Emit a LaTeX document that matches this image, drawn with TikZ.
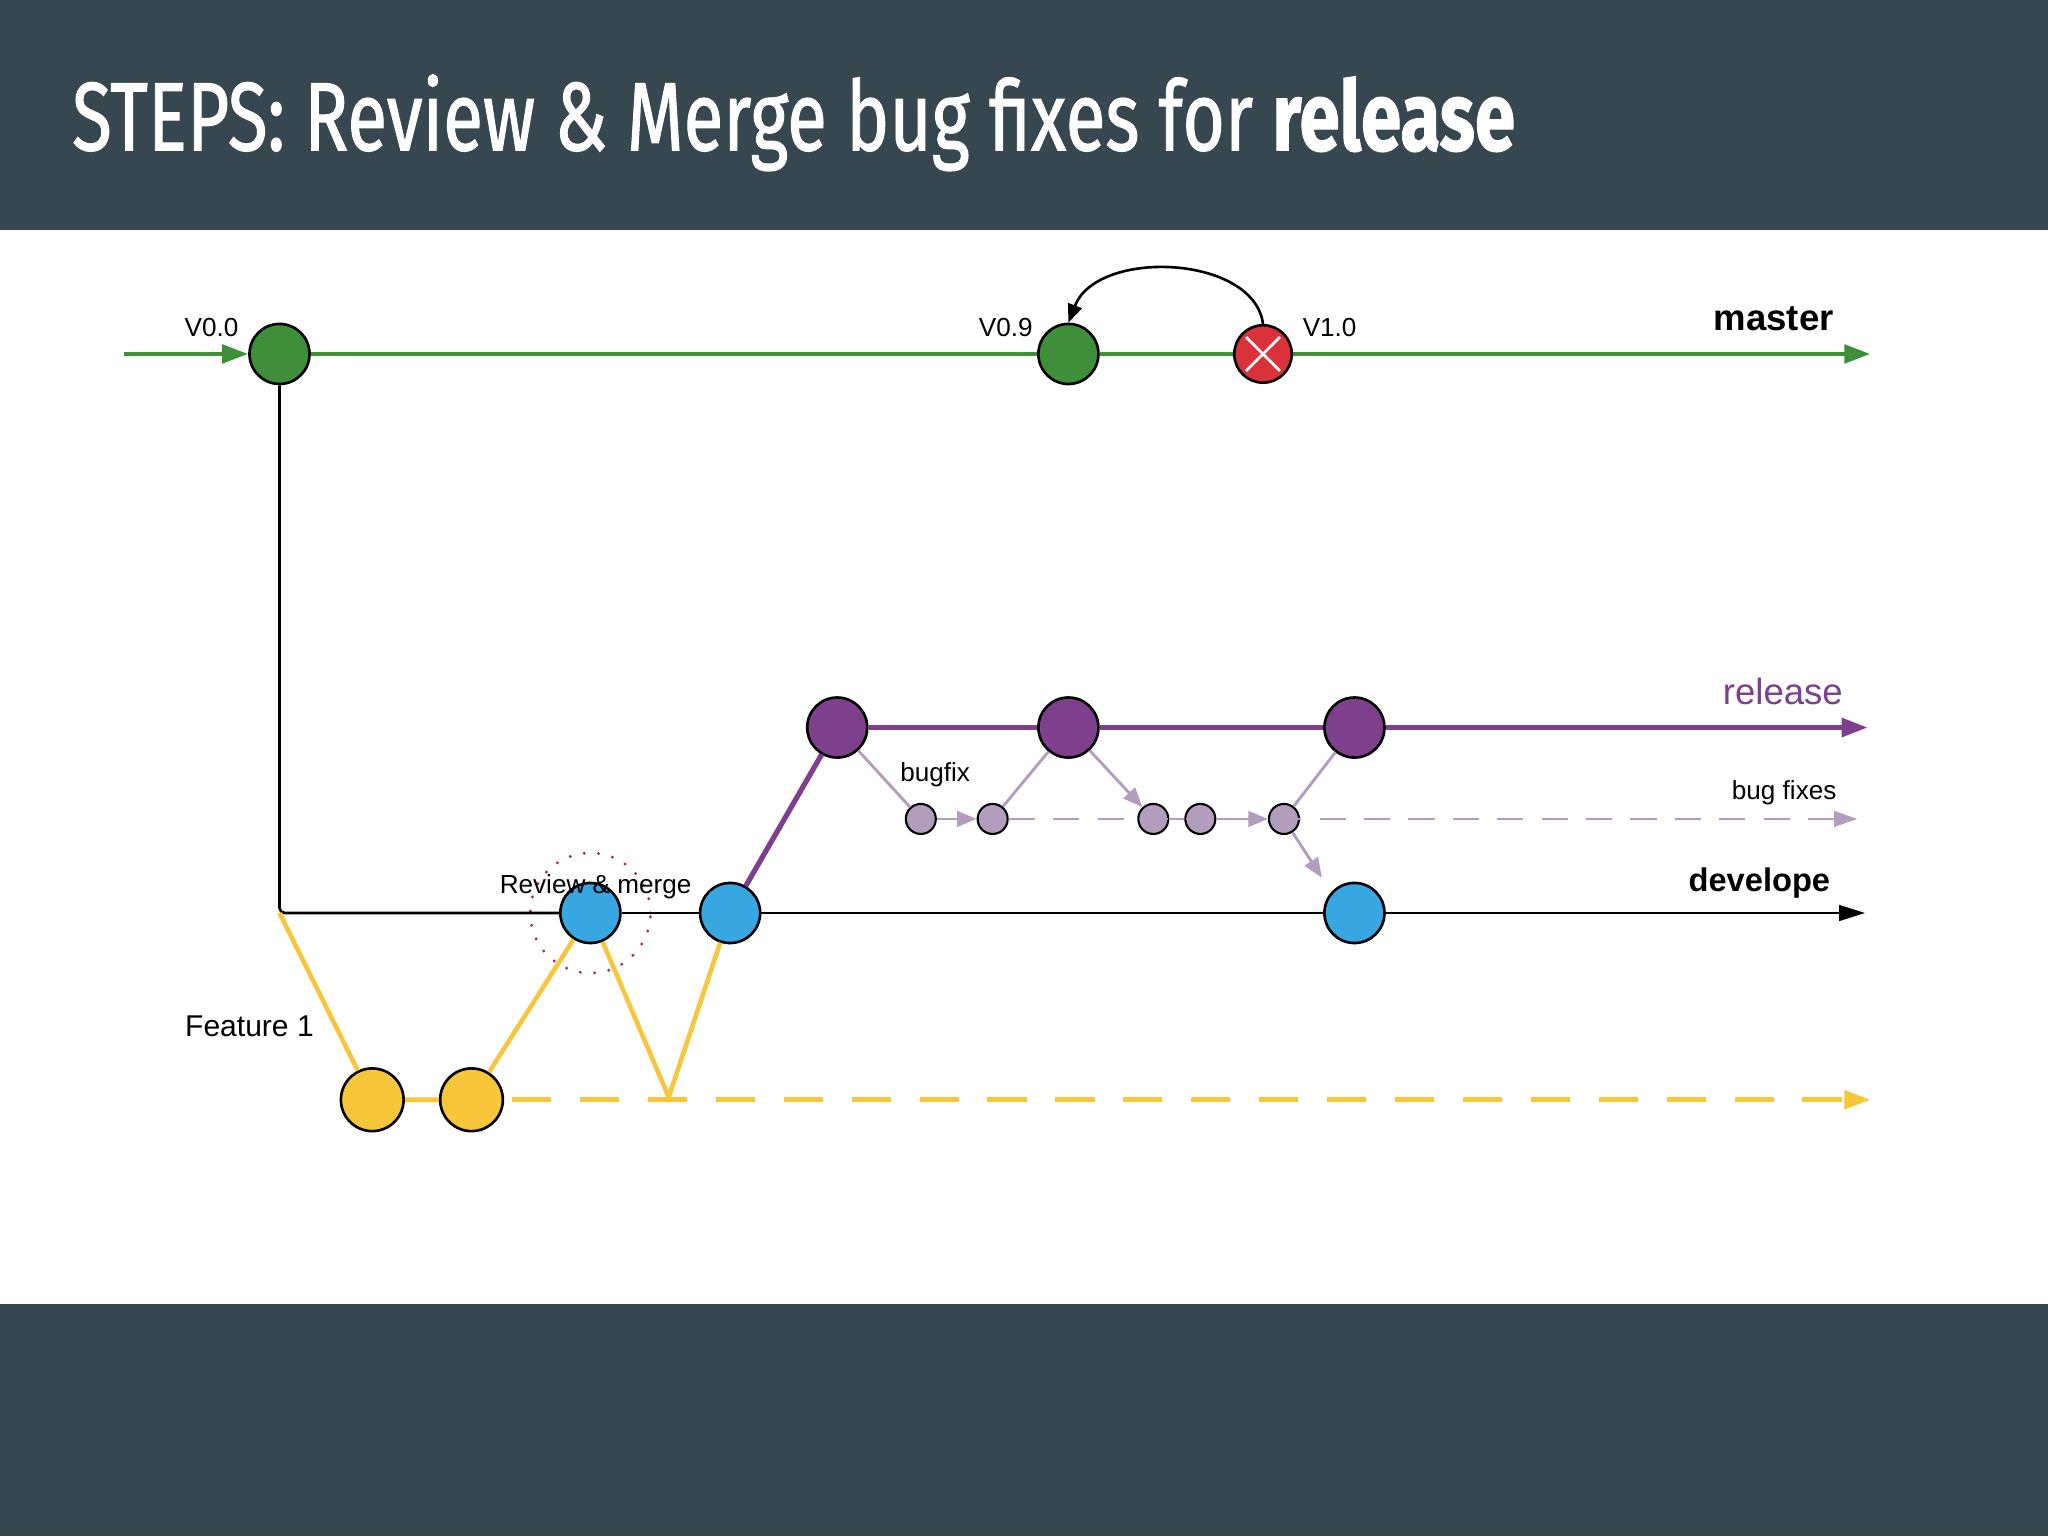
\documentclass[tikz,border=0pt]{standalone}
\usepackage{fontspec}
\setmainfont{Liberation Sans}
\newfontfamily\titlefont[FakeBold=1.2]{Fira Sans}
\usetikzlibrary{arrows.meta}
\definecolor{slate}{HTML}{37474F}
\definecolor{mgreen}{HTML}{3E8E3A}
\definecolor{rpurple}{HTML}{7E3F8C}
\definecolor{lpurple}{HTML}{B39DBD}
\definecolor{dblue}{HTML}{38A6E0}
\definecolor{fyellow}{HTML}{F8C63A}
\definecolor{xred}{HTML}{D9323B}
\tikzset{
 big/.style={circle,draw=black,line width=2pt,minimum size=46pt,inner sep=0pt},
 small/.style={circle,draw=black,line width=1.6pt,fill=lpurple,minimum size=23pt,inner sep=0pt},
 lbl/.style={font=\fontsize{20}{22}\selectfont},
 tip/.style={-{Triangle[length=20pt,width=14pt]}}
}
\begin{document}
\begin{tikzpicture}[x=1pt,y=-1pt]
\useasboundingbox (0,0) rectangle (1568,1176);
\fill[white] (0,0) rectangle (1568,1176);
\fill[slate] (0,0) rectangle (1568,176);
\fill[slate] (0,998) rectangle (1568,1176);
\node[anchor=west,text=white,inner sep=0] (title) at (55,94) {\titlefont\fontsize{62}{70}\selectfont\scalebox{0.9}[1.2]{STEPS: Review \& Merge bug fixes for \textbf{release}}};
% nodes
\node[big,fill=mgreen] (v0) at (214,271) {};
\node[big,fill=mgreen] (v9) at (818,271) {};
\node[big,fill=xred,minimum size=44pt] (v1) at (967,271) {};
\draw[white,line width=2pt] ([shift={(-13,-13)}]v1.center) -- ([shift={(13,13)}]v1.center) ([shift={(-13,13)}]v1.center) -- ([shift={(13,-13)}]v1.center);
\node[big,fill=rpurple] (r1) at (641,557) {};
\node[big,fill=rpurple] (r2) at (818,557) {};
\node[big,fill=rpurple] (r3) at (1037,557) {};
\node[small] (b1) at (705,627) {};
\node[small] (b2) at (760,627) {};
\node[small] (b3) at (883,627) {};
\node[small] (b4) at (919,627) {};
\node[small] (b5) at (983,627) {};
\node[big,fill=dblue] (d1) at (452,699) {};
\node[big,fill=dblue] (d2) at (559,699) {};
\node[big,fill=dblue] (d3) at (1037,699) {};
\node[big,fill=fyellow,minimum size=48pt] (f1) at (285,842) {};
\node[big,fill=fyellow,minimum size=48pt] (f2) at (361,842) {};
\node[circle,draw=rpurple!70!red,line width=2.5pt,dash pattern=on 0pt off 11pt,line cap=round,minimum size=92pt] (ring) at (452,699) {};
% coordinates
\coordinate (ms) at (95,271); \coordinate (me) at (1432,271);
\coordinate (corner) at (214,699); \coordinate (de) at (1428,699);
\coordinate (re) at (1430,557); \coordinate (be) at (1422,627);
\coordinate (fe) at (1432,842); \coordinate (fv) at (512,840);
\coordinate (bd) at (1012,672);
% master
\draw[mgreen,line width=3.5pt,tip] (ms) -- (v0);
\draw[mgreen,line width=3.5pt] (v0) -- (v9) (v9) -- (v1);
\draw[mgreen,line width=3.5pt,tip] (v1) -- (me);
\draw[black,line width=2pt,-{Triangle[length=14pt,width=11pt]}] (v1.north) .. controls (960,195) and (840,190) .. (v9.north);
% develope
\draw[black,line width=2pt,rounded corners=4pt] (v0) |- (d1);
\draw[black,line width=2pt] (d1) -- (d2) (d2) -- (d3);
\draw[black,line width=2pt,-{Triangle[length=20pt,width=12pt]}] (d3) -- (de);
% feature
\draw[fyellow,line width=3.5pt] (corner) -- (f1) (f1) -- (f2) (f2) -- (d1) (d1) -- (fv) -- (d2);
\draw[fyellow,line width=3.5pt,dash pattern=on 30pt off 22pt,tip] (f2.east) ++(6,0) -- (fe);
% release
\draw[rpurple,line width=4pt] (d2) -- (r1);
\draw[rpurple,line width=4pt] (r1) -- (r2) (r2) -- (r3);
\draw[rpurple,line width=4pt,tip] (r3) -- (re);
% bugfix
\tikzset{bl/.style={lpurple,line width=2.2pt},ba/.style={bl,-{Triangle[length=15pt,width=12pt]}}}
\draw[bl] (r1) -- (b1);
\draw[ba] (b1) -- (b2);
\draw[bl] (b2) -- (r2);
\draw[ba] (r2) -- (b3);
\draw[bl] (b3) -- (b4);
\draw[ba] (b4) -- (b5);
\draw[bl] (b5) -- (r3);
\draw[ba] (b5) -- (bd);
\draw[bl,dash pattern=on 20pt off 14pt,-{Triangle[length=18pt,width=12pt]}] (b2) -- (be);
% labels
\node[lbl] (l0) at (162,251) {V0.0};
\node[lbl] (l9) at (770,251) {V0.9};
\node[lbl] (l1) at (1018,251) {V1.0};
\node[font=\bfseries\fontsize{28}{30}\selectfont] (lm) at (1358,244) {master};
\node[font=\fontsize{28}{30}\selectfont,text=rpurple] (lr) at (1365,529) {release};
\node[lbl] (lb) at (716,593) {bugfix};
\node[lbl] (lbf) at (1366,607) {bug fixes};
\node[font=\bfseries\fontsize{25}{28}\selectfont] (ld) at (1347,676) {develope};
\node[lbl] (lrm) at (456,679) {Review \& merge};
\node[font=\fontsize{23}{26}\selectfont] (lf) at (191,786) {Feature 1};
\end{tikzpicture}
\end{document}
